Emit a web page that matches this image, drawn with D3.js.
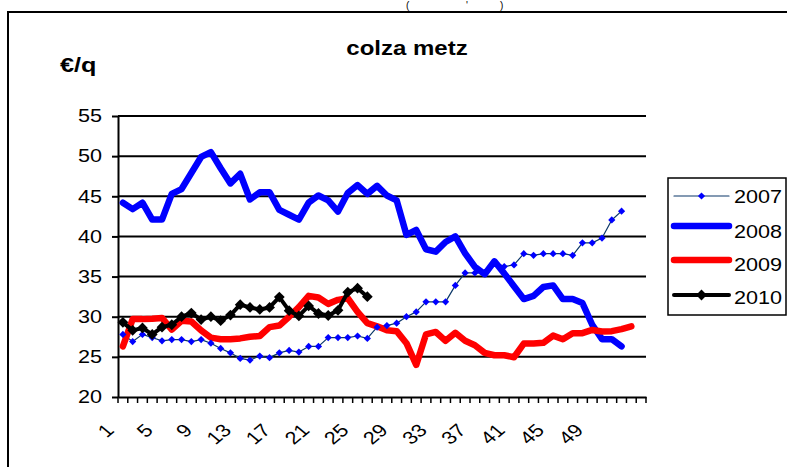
<!DOCTYPE html>
<html>
<head>
<meta charset="utf-8">
<script src="https://cdn.jsdelivr.net/npm/d3@7"></script>
<style>
  body { margin: 0; background: #fff; }
  text { font-family: "Liberation Sans", Arial, sans-serif; fill: #000; }
</style>
</head>
<body>
<script>
const w = 787;
const h = 467;

// week numbers on the category axis (the last two rows have no label)
const weeks = [1, 2, 3, 4, 5, 6, 7, 8, 9, 10, 11, 12, 13, 14, 15, 16, 17, 18, 19, 20,
  21, 22, 23, 24, 25, 26, 27, 28, 29, 30, 31, 32, 33, 34, 35, 36, 37, 38, 39, 40,
  41, 42, 43, 44, 45, 46, 47, 48, 49, 50, 51, 52, 53, 54];
const tickWeeks = [1, 5, 9, 13, 17, 21, 25, 29, 33, 37, 41, 45, 49];
const yTicks = [20, 25, 30, 35, 40, 45, 50, 55];
const seriesNames = ["2007", "2008", "2009", "2010"];

// €/q per week
const s2007 = [27.8, 26.9, 27.8, 27.4, 27.0, 27.15, 27.15, 26.9, 27.15, 26.7,
  26.05, 25.5, 24.8, 24.6, 25.1, 24.9, 25.5, 25.8, 25.6, 26.3,
  26.3, 27.4, 27.4, 27.4, 27.6, 27.3, 28.7, 28.9, 29.2, 30.0,
  30.6, 31.85, 31.85, 31.85, 33.9, 35.45, 35.45, 35.5, 36.8, 36.25,
  36.45, 37.85, 37.65, 37.85, 37.85, 37.85, 37.65, 39.2, 39.2, 39.8,
  42.05, 43.15];
const s2008 = [44.2, 43.4, 44.2, 42.1, 42.1, 45.3, 45.9, 47.9, 49.9, 50.5,
  48.5, 46.6, 47.8, 44.6, 45.5, 45.5, 43.3, 42.7, 42.1, 44.2,
  45.1, 44.5, 43.1, 45.4, 46.4, 45.3, 46.3, 45.1, 44.5, 40.2,
  40.8, 38.4, 38.1, 39.3, 40.0, 37.9, 36.2, 35.3, 36.9, 35.4,
  33.8, 32.2, 32.6, 33.7, 33.9, 32.2, 32.2, 31.7, 29.0, 27.2,
  27.2, 26.3];
const s2009 = [26.3, 29.7, 29.7, 29.75, 29.85, 28.4, 29.5, 29.4, 28.3, 27.4,
  27.2, 27.2, 27.3, 27.5, 27.6, 28.7, 28.9, 30.0, 31.2, 32.6,
  32.4, 31.6, 32.1, 32.3, 30.6, 29.2, 28.8, 28.3, 28.2, 26.7,
  24.0, 27.8, 28.1, 27.0, 28.0, 27.0, 26.45, 25.5, 25.2, 25.2,
  24.95, 26.65, 26.65, 26.75, 27.65, 27.2, 27.95, 27.95, 28.35, 28.15,
  28.2, 28.45, 28.8];
const s2010 = [29.3, 28.3, 28.6, 27.8, 28.7, 29.0, 30.0, 30.45, 29.65, 30.0,
  29.5, 30.2, 31.5, 31.15, 30.9, 31.15, 32.45, 30.75, 30.1, 31.35,
  30.4, 30.15, 30.8, 33.05, 33.55, 32.5];

const svg = d3.select("body").append("svg").attr("width", w).attr("height", h);

// outer chart frame (only top and left edges are inside the picture)
svg.append("rect").attr("x", 8).attr("y", 12).attr("width", 900).attr("height", 600)
  .attr("fill", "none").attr("stroke", "#000").attr("stroke-width", 2);

// small marks above the frame
svg.append("g").selectAll("text").data([["(", 406], ["'", 466], [")", 500]]).join("text")
  .attr("x", (d) => d[1]).attr("y", 9).style("font-size", "10px").text((d) => d[0]);

const xScale = d3.scaleBand().domain(weeks).range([118, 646]);
const yScale = d3.scaleLinear().domain([20, 55]).range([397, 116]);
const cx = (i) => xScale(weeks[i]) + xScale.bandwidth() / 2;

svg.append("text").attr("transform", "translate(407,55) scale(1.2,1)")
  .attr("text-anchor", "middle").style("font-size", "20px").style("font-weight", "bold")
  .text("colza metz");
svg.append("text").attr("transform", "translate(60,72) scale(1.2,1)")
  .style("font-size", "21px").style("font-weight", "bold").text("€/q");

// gridlines
svg.append("g").selectAll("line").data(yTicks.slice(1)).join("line")
  .attr("x1", 118).attr("x2", 646)
  .attr("y1", (d) => yScale(d)).attr("y2", (d) => yScale(d))
  .attr("stroke", "#000").attr("stroke-width", 2);

const yAxis = d3.axisLeft(yScale).tickValues(yTicks).tickSize(6).tickSizeOuter(0).tickPadding(7.3);
const gy = svg.append("g").attr("transform", "translate(118,0)").call(yAxis);
gy.attr("font-family", null).attr("font-size", null);
gy.selectAll("line, path").attr("stroke", "#000").attr("stroke-width", 2);
gy.selectAll("text").style("font-size", "18px").attr("transform", "scale(1.2,1)");

const xAxis = d3.axisBottom(xScale).tickValues(tickWeeks).tickSize(0).tickSizeOuter(0);
const gx = svg.append("g").attr("transform", "translate(0,397)").call(xAxis);
gx.attr("font-family", null).attr("font-size", null);
gx.select("path").attr("stroke", "#000").attr("stroke-width", 2);
gx.selectAll("text").attr("y", null).attr("dy", ".35em").attr("text-anchor", "end")
  .style("font-size", "18px")
  .attr("transform", "translate(-13,30) scale(1.2,1) rotate(-45)");

// category boundary ticks
const bounds = weeks.map((d) => xScale(d)).concat([xScale(weeks[weeks.length - 1]) + xScale.bandwidth()]);
svg.append("g").selectAll("line").data(bounds).join("line")
  .attr("x1", (d) => d).attr("x2", (d) => d).attr("y1", 397).attr("y2", 403)
  .attr("stroke", "#000").attr("stroke-width", 1.5);

const line = d3.line().x((d, i) => cx(i)).y((d) => yScale(d));

const styles = [
  { data: s2007, stroke: "#0b3768", width: 1.2, marker: "#0000ff", msize: 26 },
  { data: s2008, stroke: "#0000ff", width: 6.5 },
  { data: s2009, stroke: "#ff0000", width: 6.5 },
  { data: s2010, stroke: "#000", width: 4, marker: "#000", msize: 58 }
];

styles.forEach((s) => {
  svg.append("path").datum(s.data).attr("d", line)
    .attr("fill", "none").attr("stroke", s.stroke).attr("stroke-width", s.width)
    .attr("stroke-linejoin", "round").attr("stroke-linecap", "round");
});

const diamond = (size) => d3.symbol().type(d3.symbolSquare).size(size)();
styles.filter((s) => s.marker).forEach((s) => {
  svg.append("g").selectAll("path").data(s.data).join("path")
    .attr("d", diamond(s.msize)).attr("fill", s.marker)
    .attr("transform", (d, i) => `translate(${cx(i)},${yScale(d)}) rotate(45)`);
});

// legend
const legend = svg.append("g");
legend.append("rect").attr("x", 668).attr("y", 178).attr("width", 118).attr("height", 137)
  .attr("fill", "#fff").attr("stroke", "#000").attr("stroke-width", 1.5);
const lineY = [196, 226, 260, 295];
const textY = [203, 238, 271, 304];
seriesNames.forEach((name, k) => {
  const s = styles[k];
  legend.append("line").attr("x1", 674).attr("x2", 729).attr("y1", lineY[k]).attr("y2", lineY[k])
    .attr("stroke", s.stroke).attr("stroke-width", s.width).attr("stroke-linecap", "round");
  if (s.marker) {
    legend.append("path").attr("d", diamond(s.msize)).attr("fill", s.marker)
      .attr("transform", `translate(701.5,${lineY[k]}) rotate(45)`);
  }
  legend.append("text").attr("transform", `translate(734,${textY[k]}) scale(1.2,1)`)
    .style("font-size", "18px").text(name);
});
</script>
</body>
</html>
